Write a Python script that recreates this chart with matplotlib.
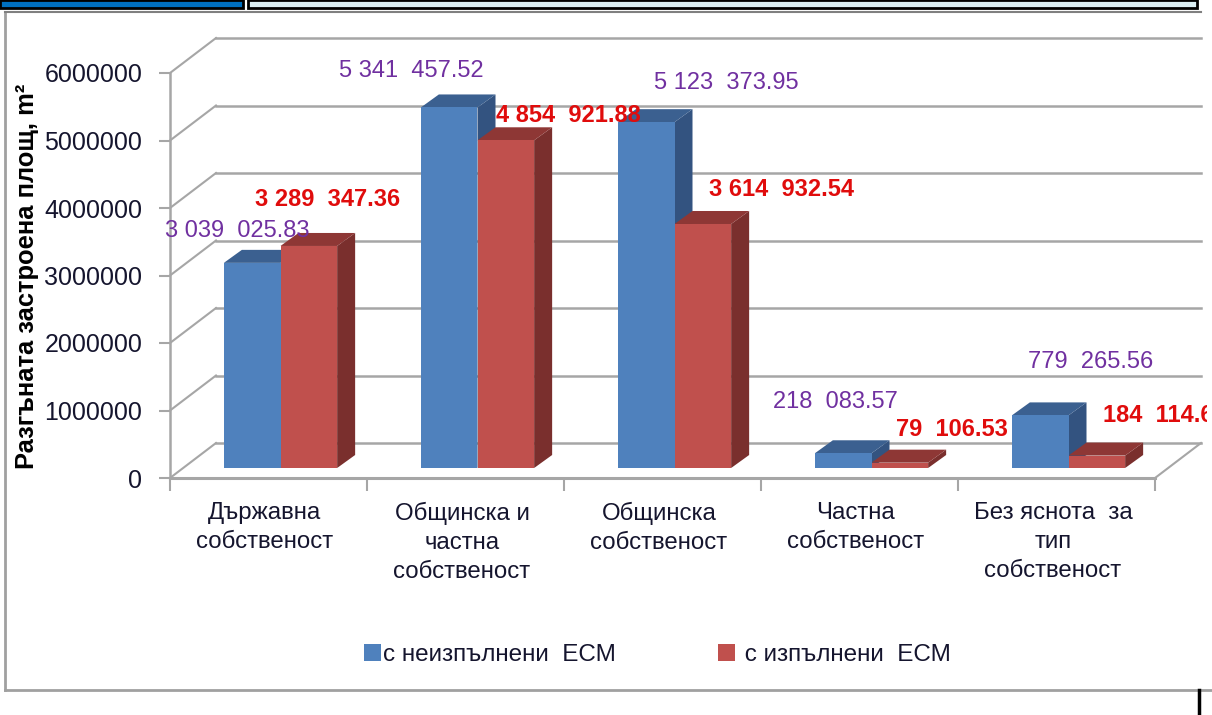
import matplotlib
matplotlib.use('Agg')
import matplotlib.pyplot as plt
from matplotlib.patches import Polygon, Patch, Rectangle
from matplotlib.transforms import Bbox

categories = ['Държавна\nсобственост', 'Общинска и\nчастна\nсобственост', 'Общинска\nсобственост',
              'Частна\nсобственост', 'Без яснота  за\nтип\nсобственост']
not_done = [3039025.83, 5341457.52, 5123373.95, 218083.57, 779265.56]
done = [3289347.36, 4854921.88, 3614932.54, 79106.53, 184114.60]
not_done_labels = ['3 039  025.83', '5 341  457.52', '5 123  373.95', '218  083.57', '779  265.56']
done_labels = ['3 289  347.36', '4 854  921.88', '3 614  932.54', '79  106.53', '184  114.60']
y_ticks = [0, 1000000, 2000000, 3000000, 4000000, 5000000, 6000000]
series_names = ['с неизпълнени  ЕСМ', ' с изпълнени  ЕСМ']

W, H = 1212, 715
plt.rcParams['font.family'] = ['Liberation Sans']


def px(x, y):
    return x / W, 1 - y / H


fig = plt.figure(figsize=(W / 100, H / 100), dpi=100)
ax = fig.add_axes([170 / W, 1 - 478 / H, 985 / W, 405 / H])
ax.set_xlim(0, 5)
ax.set_ylim(0, 6000000)
ax.patch.set_alpha(0)
for s in ax.spines.values():
    s.set_visible(False)

# size of one pixel in data units, used for the fake 3d depth
ux = 5 / 985
uy = 6000000 / 405
grid_c = '#a6a6a6'
wall_dx, wall_dy = 46 * ux, 35 * uy

# walls and floor
for v in y_ticks:
    ax.plot([0, wall_dx], [v, v + wall_dy], color=grid_c, lw=1.5, clip_on=False, zorder=1)
    ax.plot([wall_dx, 5 + wall_dx], [v + wall_dy, v + wall_dy], color=grid_c, lw=1.8, clip_on=False, zorder=1)
ax.plot([0, 0], [0, 6000000], color=grid_c, lw=1.8, clip_on=False, zorder=1)
ax.plot([0, 5], [0, 0], color=grid_c, lw=2.2, clip_on=False, zorder=1)
ax.plot([5, 5 + wall_dx], [0, wall_dy], color=grid_c, lw=1.5, clip_on=False, zorder=1)


def bar3d(x0, val, front, top, side):
    w = 0.2875
    bx = 12 * ux
    by = 10 * uy
    dx = 18 * ux
    dy = 13 * uy
    x0 = x0 + bx
    x1 = x0 + w
    y0 = by
    y1 = by + val
    ax.add_patch(Polygon([(x1, y0), (x1 + dx, y0 + dy), (x1 + dx, y1 + dy), (x1, y1)], fc=side, ec='none', clip_on=False, zorder=3))
    ax.add_patch(Polygon([(x0, y1), (x0 + dx, y1 + dy), (x1 + dx, y1 + dy), (x1, y1)], fc=top, ec='none', clip_on=False, zorder=3))
    ax.add_patch(Rectangle((x0, y0), w, val, fc=front, ec='none', clip_on=False, zorder=4))


for i in range(len(categories)):
    left = i + 0.5 - 0.2875
    bar3d(left, not_done[i], '#4f81bd', '#3b6090', '#335380')
    bar3d(left + 0.2875, done[i], '#c0504d', '#8e3735', '#7a2f2d')

# axes ticks
ax.set_yticks(y_ticks)
ax.set_yticklabels([str(v) for v in y_ticks], fontsize=18, color='#15152e')
ax.tick_params(axis='y', length=8, width=1.5, color=grid_c, pad=12)
ax.set_xticks(range(6))
ax.set_xticklabels([])
ax.tick_params(axis='x', which='major', length=9, width=1.5, color=grid_c)
ax.set_xticks([i + 0.5 - 3.5 * ux for i in range(5)], minor=True)
ax.set_xticklabels(categories, minor=True, fontsize=17.3, color='#15152e', linespacing=1.41)
ax.tick_params(axis='x', which='minor', length=0, pad=17)

fig.text(*px(27, 276), 'Разгъната застроена площ, m²', rotation=90, ha='center', va='center',
         fontweight='bold', fontsize=18.4, color='black')

# data labels, placed by hand like in the original
purple = '#7030a0'
red = '#e00c0c'
purple_pos = [(237, 231), (411, 71), (726, 83), (835, 402), (1091, 362)]
red_pos = [(328, 200), (568, 115), (781, 190), (952, 429), (1165, 415)]
for t, p in zip(not_done_labels, purple_pos):
    fig.text(*px(*p), t, color=purple, fontsize=17, ha='center', va='center', zorder=6)
for t, p in zip(done_labels, red_pos):
    lab = fig.text(*px(*p), t, color=red, fontsize=17, fontweight='bold', ha='center', va='center', zorder=6)
    lab.set_clip_box(Bbox([[0, 0], [1207, H]]))
    lab.set_clip_on(True)

handles = [Patch(fc='#4f81bd'), Patch(fc='#c0504d')]
fig.legend(handles, series_names, loc='center left', bbox_to_anchor=px(342, 655), ncol=2, frameon=False,
           fontsize=17.5, handlelength=0.7, handleheight=0.7, handletextpad=0.1, columnspacing=4.2,
           labelcolor='#15152e')

# chart frame and the table row above it
fig.add_artist(plt.Line2D([5 / W, 5 / W], [1 - 12 / H, 1 - 690 / H], color='#a0a0a0', lw=2))
fig.add_artist(plt.Line2D([5 / W, 1201 / W], [1 - 12 / H, 1 - 12 / H], color='#808080', lw=1.5))
fig.add_artist(plt.Line2D([5 / W, 1212 / W], [1 - 690 / H, 1 - 690 / H], color='#a0a0a0', lw=2))
fig.add_artist(Rectangle((0, 1 - 8 / H), 243 / W, 8 / H, fc='#0070c0', ec='black', lw=2, transform=fig.transFigure))
fig.add_artist(Rectangle((248 / W, 1 - 8 / H), 949 / W, 8 / H, fc='#daeef3', ec='black', lw=2, transform=fig.transFigure))
fig.add_artist(plt.Line2D([1199 / W, 1199 / W], [1 - 690 / H, 0], color='black', lw=2.5))

fig.savefig('out.png', dpi=100)
